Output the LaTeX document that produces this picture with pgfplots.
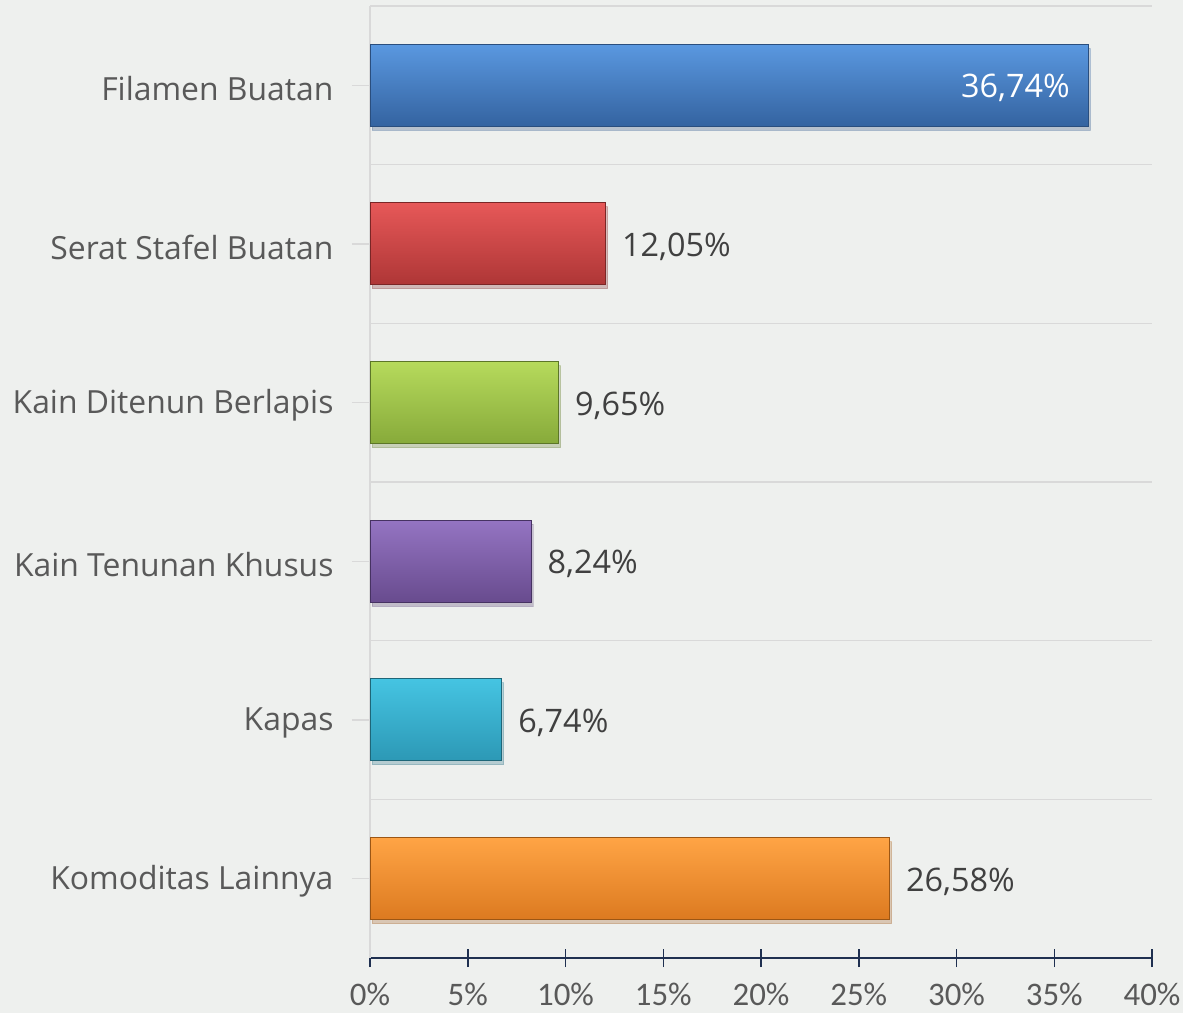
\documentclass[border=0pt]{standalone}
\usepackage{fontspec}
\setmainfont{Open Sans}
\newfontfamily\carlito{Carlito}
\usepackage{pgfplots}
\pgfplotsset{compat=1.18}
\usetikzlibrary{shadows}
\definecolor{bg}{HTML}{EEF0EE}
\definecolor{gridc}{HTML}{D9D9D9}
\definecolor{navy}{HTML}{1F3050}
\definecolor{txt}{HTML}{595959}
\definecolor{vtxt}{HTML}{404040}
% bar colours: top / middle / bottom / border
\definecolor{bT}{HTML}{5A98E0}\definecolor{bM}{HTML}{3E7ECC}\definecolor{bB}{HTML}{3463A0}\definecolor{bD}{HTML}{2A4E7E}
\definecolor{rT}{HTML}{E65858}\definecolor{rM}{HTML}{D44343}\definecolor{rB}{HTML}{AE3636}\definecolor{rD}{HTML}{7A2626}
\definecolor{gT}{HTML}{B6DA5C}\definecolor{gM}{HTML}{A2C84A}\definecolor{gB}{HTML}{87AA3A}\definecolor{gD}{HTML}{5C7628}
\definecolor{pT}{HTML}{9474C2}\definecolor{pM}{HTML}{7E5CA9}\definecolor{pB}{HTML}{684B8E}\definecolor{pD}{HTML}{463262}
\definecolor{cT}{HTML}{45C4E2}\definecolor{cM}{HTML}{36B3D5}\definecolor{cB}{HTML}{2C98B5}\definecolor{cD}{HTML}{1E6678}
\definecolor{oT}{HTML}{FFA445}\definecolor{oM}{HTML}{F98F2C}\definecolor{oB}{HTML}{DC7A20}\definecolor{oD}{HTML}{9C5614}
\pgfplotsset{
  mybar/.style n args={4}{draw=#4, line width=1bp, top color=#1, middle color=#2, bottom color=#3,
    drop shadow={shadow xshift=2bp, shadow yshift=-4bp, opacity=0.2}},
}
\begin{document}
\begin{tikzpicture}
\fill[bg] (0,0) rectangle (1183bp,1013bp);
\useasboundingbox (0,0) rectangle (1183bp,1013bp);
\begin{axis}[
  at={(370bp,55bp)}, anchor=south west,
  scale only axis, width=782bp, height=952bp,
  xbar, bar width=82bp, bar shift=0pt,
  xmin=0, xmax=40, ymin=-0.5, ymax=5.5,
  axis x line*=bottom, axis y line*=left,
  x axis line style={navy, line width=2bp, -},
  y axis line style={gridc, line width=1.5bp, -},
  xtick={0,5,...,40},
  xticklabel={\pgfmathprintnumber{\tick}\%},
  x tick style={navy, line width=1.5bp},
  xtick align=center,
  major tick length=18bp,
  xticklabel style={font=\carlito\fontsize{33}{40}\selectfont, text=txt, yshift=-13bp},
  ytick={0,...,5},
  yticklabels={Komoditas Lainnya, Kapas, Kain Tenunan Khusus, Kain Ditenun Berlapis, Serat Stafel Buatan, Filamen Buatan},
  y tick style={gridc, line width=1.5bp},
  ytick align=outside,
  yticklabel style={font=\fontsize{32}{38}\selectfont, text=txt, anchor=east, xshift=-15bp, yshift=-3bp},
  minor ytick={0.5,1.5,...,5.5},
  yminorgrids=true,
  minor y tick style={draw=none},
  minor grid style={gridc, line width=1.5bp},
  /pgf/number format/assume math mode=true,
  nodes near coords={\pgfmathprintnumber[fixed,fixed zerofill,precision=2,use comma]{\pgfplotspointmeta}\%},
  every node near coord/.append style={font=\fontsize{32.5}{39}\selectfont, text=vtxt, anchor=west, inner sep=0pt, xshift=16bp, yshift=-3bp},
  clip=false,
]
\addplot[mybar={oT}{oM}{oB}{oD}] coordinates {(26.58,0)};
\addplot[mybar={cT}{cM}{cB}{cD}] coordinates {(6.74,1)};
\addplot[mybar={pT}{pM}{pB}{pD}] coordinates {(8.24,2)};
\addplot[mybar={gT}{gM}{gB}{gD}] coordinates {(9.65,3)};
\addplot[mybar={rT}{rM}{rB}{rD}] coordinates {(12.05,4)};
\addplot[mybar={bT}{bM}{bB}{bD},
  every node near coord/.append style={anchor=east, text=white, xshift=-34bp}] coordinates {(36.74,5)};
\end{axis}
\end{tikzpicture}
\end{document}
